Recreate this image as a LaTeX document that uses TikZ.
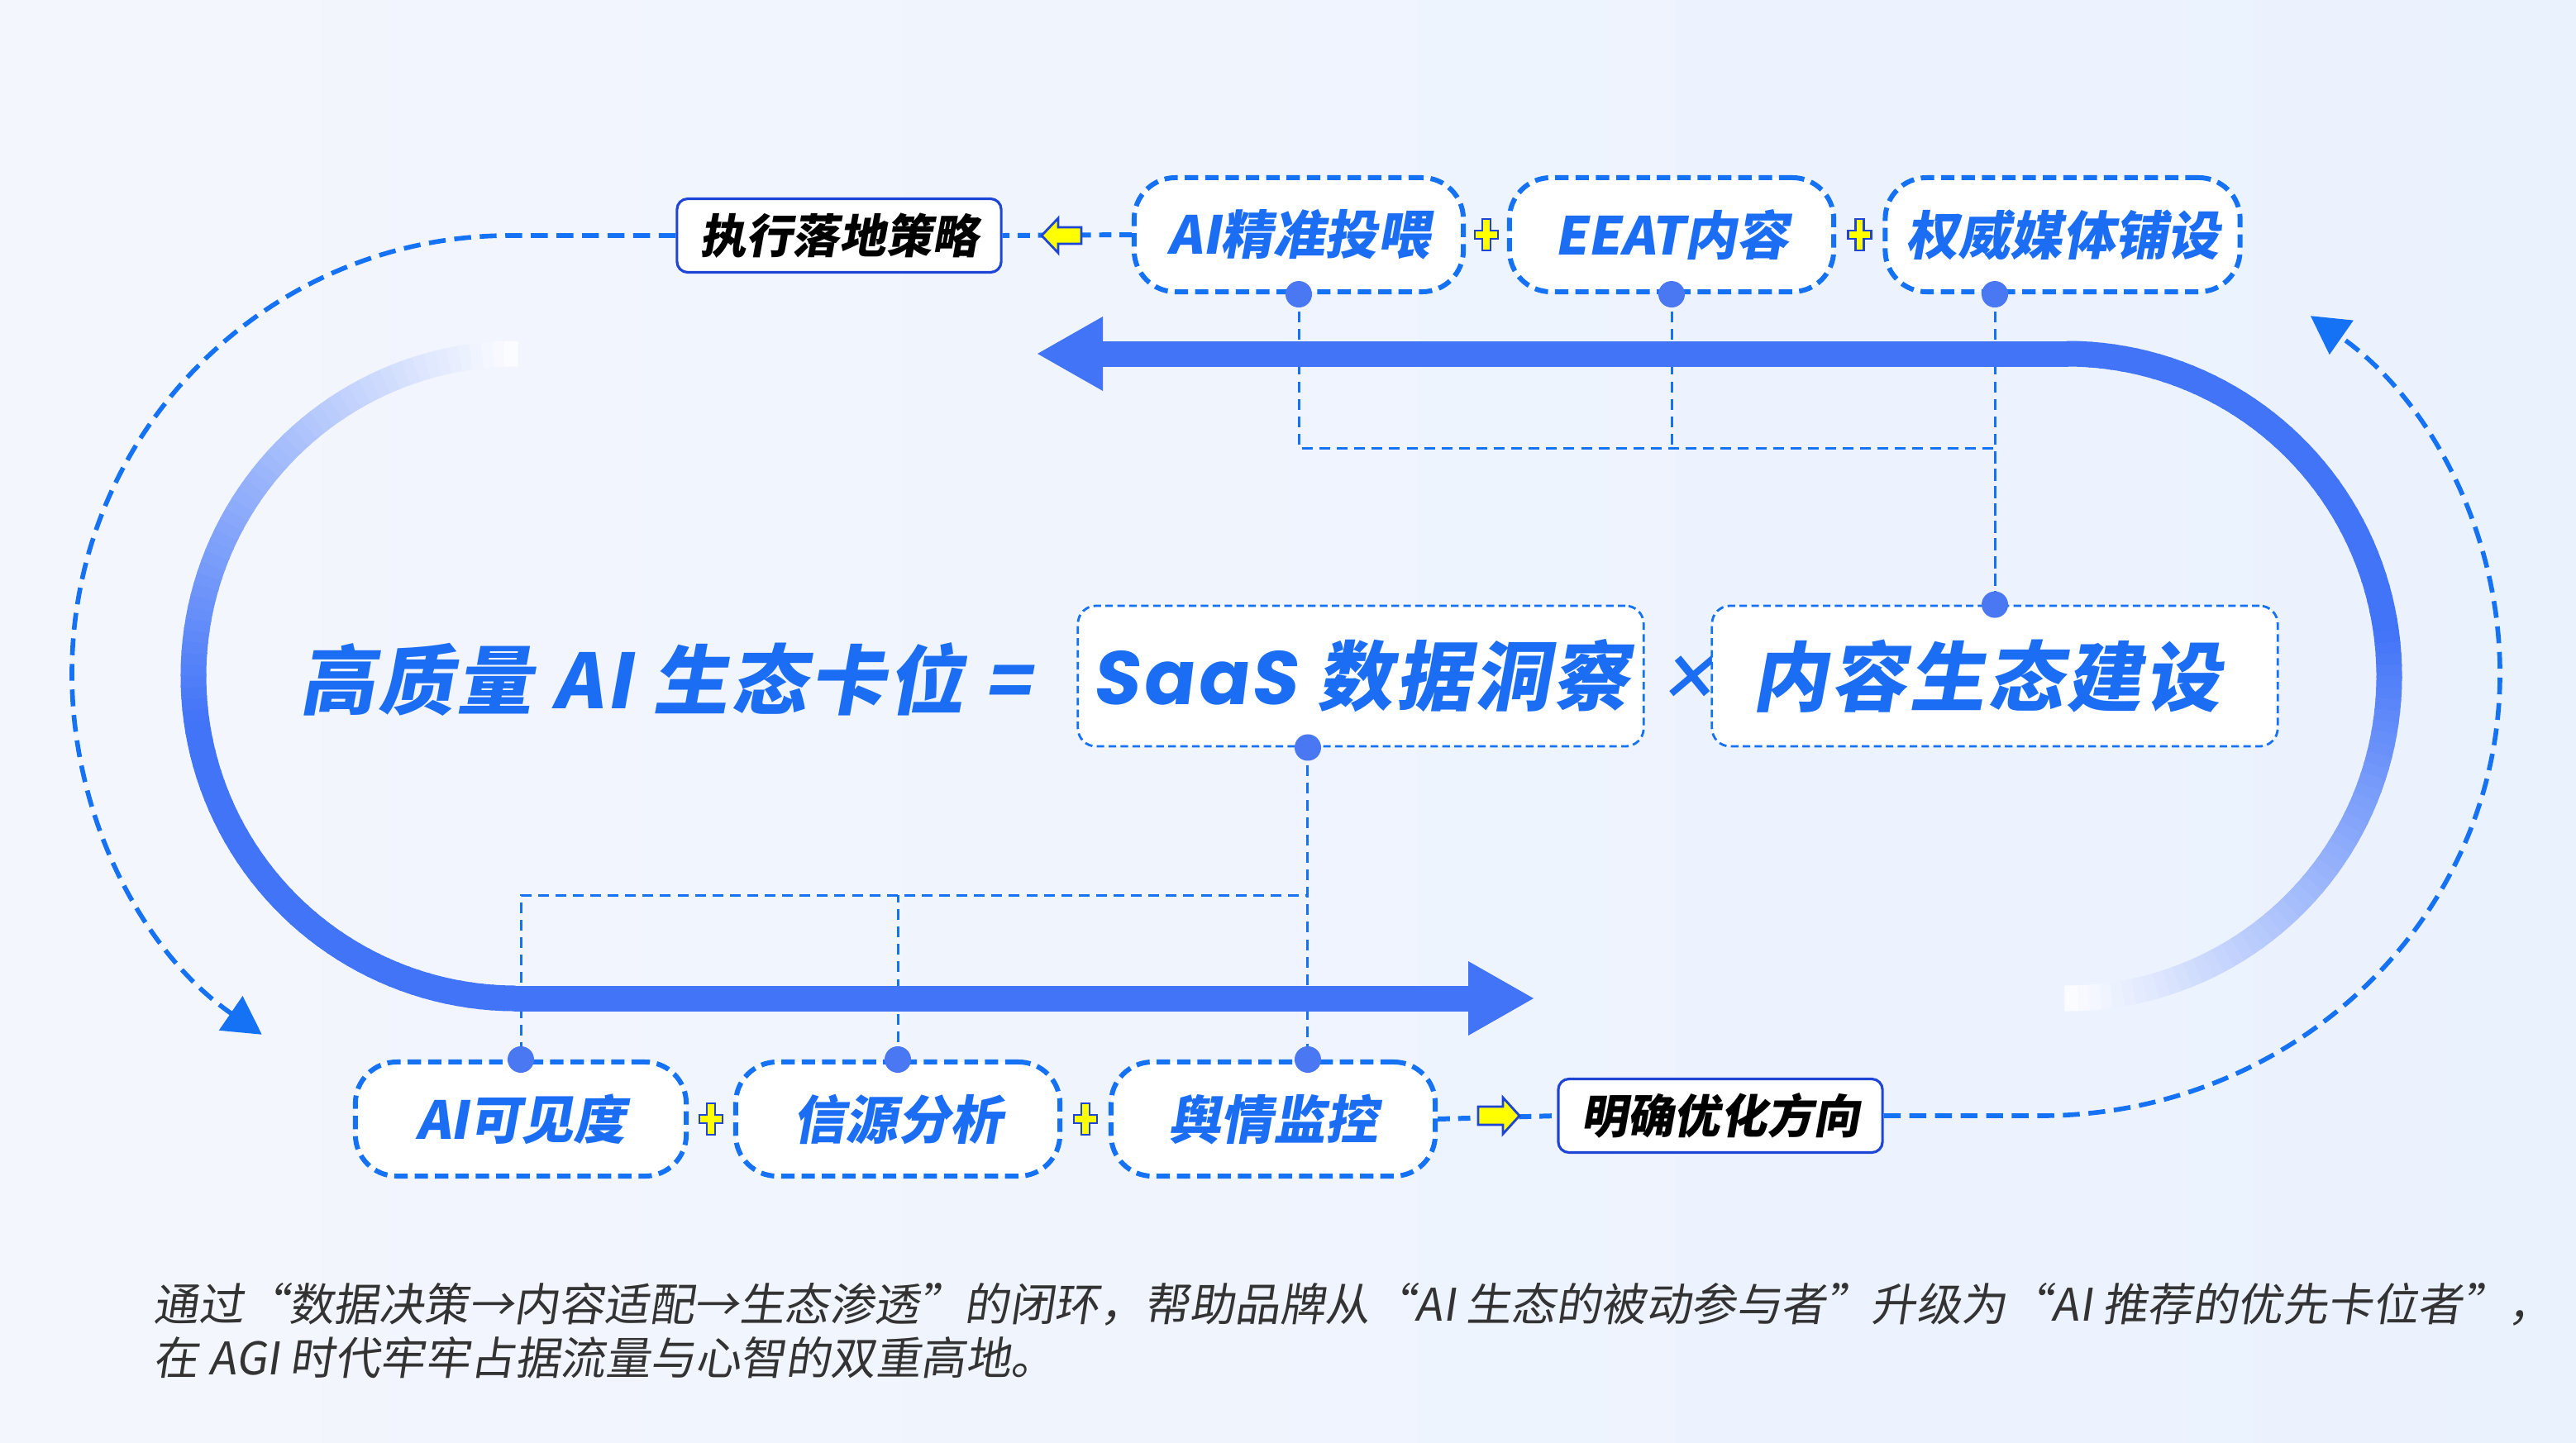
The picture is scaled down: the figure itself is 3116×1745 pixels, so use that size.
\documentclass[tikz,border=0pt]{standalone}
\usepackage{fontspec}
\usetikzlibrary{arrows.meta,calc}
\newfontfamily\cjkb[FakeSlant=0.18]{Noto Sans CJK SC}
\newfontfamily\cjkm[FakeSlant=0.18,LetterSpace=4]{Noto Sans CJK SC}
\newfontfamily\cjkc[FakeSlant=0.15]{Noto Sans CJK SC}
\newfontfamily\latm[FakeSlant=0.12,LetterSpace=4]{Poppins}
\definecolor{bgl}{HTML}{F4F6FD}
\definecolor{bgr}{HTML}{EAF2FE}
\definecolor{dblue}{HTML}{1672F4}
\definecolor{tblue}{HTML}{1B6EF3}
\definecolor{band}{HTML}{4274F8}
\definecolor{dotc}{HTML}{4A77F2}
\definecolor{nblue}{HTML}{1F45D6}
\definecolor{ylw}{HTML}{FFFF00}
\definecolor{captxt}{HTML}{333333}
\tikzset{
 pill/.style={draw=dblue, line width=1.7pt, dash pattern=on 4.6pt off 2.4pt, fill=white, rounded corners=0.5cm, minimum height=1.38cm, inner sep=0pt, text=tblue, font=\cjkb\bfseries\fontsize{18}{20}\selectfont},
 sbox/.style={draw=nblue, line width=0.9pt, fill=white, rounded corners=0.13cm, minimum width=3.92cm, minimum height=0.89cm, inner sep=0pt, text=black, font=\cjkb\bfseries\fontsize{16}{18}\selectfont},
 fbox/.style={draw=dblue, line width=0.8pt, dash pattern=on 2.6pt off 1.5pt, fill=white, rounded corners=0.22cm, minimum width=6.84cm, minimum height=1.70cm, inner sep=0pt, text=tblue, font=\cjkm\bfseries\fontsize{26}{28}\selectfont},
 eqtext/.style={inner sep=0pt, text=tblue, font=\cjkm\bfseries\fontsize{26}{28}\selectfont},
 conn/.style={draw=dblue, line width=0.85pt, dash pattern=on 3.7pt off 2.3pt},
 linkdash/.style={draw=dblue, line width=1.7pt, dash pattern=on 4.2pt off 2.8pt},
 loopdash/.style={draw=dblue, line width=1.6pt, dash pattern=on 5.8pt off 3pt, -{Triangle[length=13pt,width=14pt]}},
 dotn/.style={circle, fill=dotc, minimum size=0.32cm, inner sep=0pt},
 ymark/.style={fill=ylw, draw=nblue, line width=0.8pt, line join=miter},
 bandline/.style={line width=0.31cm, draw=band},
 captext/.style={inner sep=0pt, text=captxt, font=\cjkc\fontsize{15.5}{18}\selectfont, anchor=base west},
}
\begin{document}
\begin{tikzpicture}[x=0.01cm, y=-0.01cm]
\path[use as bounding box] (0,0) rectangle (3116,1745);
\shade[left color=bgl, right color=bgr] (0,0) rectangle (3116,1745);

% top row
\node[pill, minimum width=3.98cm] (ai) at (1571,284) {AI精准投喂};
\node[pill, minimum width=3.92cm] (ee) at (2022,284) {EEAT内容};
\node[pill, minimum width=4.29cm] (qw) at (2495,284) {权威媒体铺设};
\node[sbox] (zx) at (1015,285) {执行落地策略};

% formula row
\node[eqtext, anchor=west] (eq) at (362,822) {高质量 AI 生态卡位 =};
\node[fbox] (sa) at (1646,818) {{\latm\bfseries SaaS} 数据洞察};
\node[inner sep=0pt, text=tblue, font=\cjkb\bfseries\fontsize{21}{22}\selectfont] (tm) at (2042,820) {×};
\node[fbox] (nr) at (2413,818) {内容生态建设\hspace*{0.2cm}};

% bottom row
\node[pill, minimum width=4.00cm] (ka) at (630,1354) {AI可见度};
\node[pill, minimum width=3.92cm] (xy) at (1086,1354) {信源分析};
\node[pill, minimum width=3.92cm] (yq) at (1540,1354) {舆情监控};
\node[sbox] (mq) at (2081,1350) {明确优化方向};

% caption
\node[captext] (cap1) at (185,1598) {通过“数据决策→内容适配→生态渗透”的闭环，帮助品牌从“AI 生态的被动参与者”升级为“AI 推荐的优先卡位者”，};
\node[captext] (cap2) at (185,1663) {在 AGI 时代牢牢占据流量与心智的双重高地。};

% thin connectors
\coordinate (sd) at ([xshift=-0.64cm]sa.south);
\draw[conn] (ai.south) -- ++(0,186) -| (nr.north);
\draw[conn] (ee.south) -- ++(0,186);
\draw[conn] (qw.south -| nr.north) -- (nr.north);
\draw[conn] (sd) -- ++(0,179) -| (ka.north);
\draw[conn] (xy.north) -- ++(0,-199);
\draw[conn] (sd) -- (sd |- yq.north);

% thick links
\draw[linkdash] (ai.west) -- (zx.east);
\draw[linkdash] (yq.east) -- (mq.west);

% loop dashed arrows
\draw[loopdash] (zx.west) -- (617,285) arc[start angle=270, end angle=124.5, radius=530];
\draw[loopdash] (mq.east) -- (2468,1350) arc[start angle=90, end angle=-54, x radius=556, y radius=535];

% big band
\draw[bandline] (2502,428) -- (1330,428);
\fill[band] (1334,383) -- (1255,428) -- (1334,473) -- cycle;
\draw[bandline] (622,1208) -- (1780,1208);
\fill[band] (1776,1163) -- (1855,1208) -- (1776,1253) -- cycle;
\foreach \i in {0,...,89}{
  \pgfmathsetmacro\m{min(100,100*(1-\i/90)/0.55)}
  \pgfmathsetmacro\ra{-90+2*\i}
  \pgfmathsetmacro\la{90+2*\i}
  \draw[line width=0.31cm, draw=band!\m!white] (2500,818) ++(\ra:390) arc[start angle=\ra, end angle=\ra+2.4, radius=390];
  \draw[line width=0.31cm, draw=band!\m!white] (624,818) ++(\la:390) arc[start angle=\la, end angle=\la+2.4, radius=390];
}

% dots
\node[dotn] (d1) at (ai.south) {};
\node[dotn] (d2) at (ee.south) {};
\node[dotn] (d3) at (qw.south -| nr.north) {};
\node[dotn] (d4) at (nr.north) {};
\node[dotn] (d5) at (sd) {};
\node[dotn] (d6) at (ka.north) {};
\node[dotn] (d7) at (xy.north) {};
\node[dotn] (d8) at (sd |- yq.north) {};

% yellow arrows
\coordinate (ya1) at (1284,285);
\draw[ymark] (ya1) ++(24,-10) -- ++(-28,0) -- ++(0,-11) -- ++(-20,21) -- ++(20,21) -- ++(0,-11) -- ++(28,0) -- cycle;
\coordinate (ya2) at (1813,1350);
\draw[ymark] (ya2) ++(-25,-11) -- ++(30,0) -- ++(0,-11) -- ++(20,22) -- ++(-20,22) -- ++(0,-11) -- ++(-30,0) -- cycle;

% plus signs
\foreach \a/\b/\n in {ai/ee/p1, ee/qw/p2, ka/xy/p3, xy/yq/p4}{
  \coordinate (\n) at ($(\a.east)!0.5!(\b.west)$);
  \draw[ymark] (\n) ++(-5,-19) -- ++(10,0) -- ++(0,14) -- ++(9,0) -- ++(0,10) -- ++(-9,0) -- ++(0,14) -- ++(-10,0) -- ++(0,-14) -- ++(-9,0) -- ++(0,-10) -- ++(9,0) -- cycle;
}
\end{tikzpicture}
\end{document}
